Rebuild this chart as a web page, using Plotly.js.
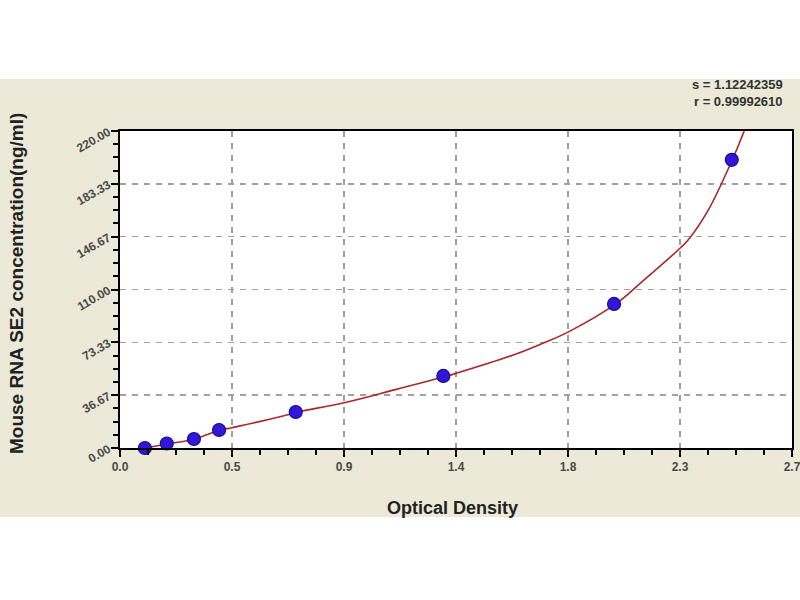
<!DOCTYPE html>
<html>
<head>
<meta charset="utf-8">
<script src="https://cdn.plot.ly/plotly-3.0.1.min.js"></script>
<style>html,body{margin:0;padding:0;background:#fff;}</style>
</head>
<body>
<div id="chart" style="width:800px;height:600px;"></div>
<script>
// Standard points (optical density vs concentration)
var odValues = [0.100, 0.188, 0.297, 0.398, 0.706, 1.299, 1.985, 2.458];
var concValues = [0, 3.125, 6.25, 12.5, 25, 50, 100, 200];

// Fitted curve
var fitOD = [0.10, 0.19, 0.30, 0.40, 0.45, 0.56, 0.67, 0.71, 0.90, 1.11, 1.30, 1.35, 1.58, 1.69, 1.80, 1.99, 2.09, 2.25, 2.28, 2.36, 2.46, 2.51];
var fitConc = [0, 2.8, 6.3, 12.3, 14.1, 18.3, 22.9, 24.8, 31.4, 40.7, 49.3, 51.8, 64.5, 72.0, 80.4, 99.8, 114.3, 138.6, 143.8, 164.0, 200, 221];

var xTickVals = [0, 0.45, 0.9, 1.35, 1.8, 2.25, 2.7];
var xTickText = ["0.0", "0.5", "0.9", "1.4", "1.8", "2.3", "2.7"];
var yTickVals = [0, 36.667, 73.333, 110, 146.667, 183.333, 220];
var yTickText = ["0.00", "36.67", "73.33", "110.00", "146.67", "183.33", "220.00"];

var statLines = ["s = 1.12242359", "r = 0.99992610"];
var xTitle = "Optical Density";
var yTitle = "Mouse RNA SE2 concentration(ng/ml)";

var fam = "Liberation Sans, Arial, sans-serif";
var tickFont = {family: fam, size: 12, color: "#4a4a4a", weight: "bold"};

var traces = [
  {
    x: fitOD, y: fitConc, mode: "lines", type: "scatter",
    line: {color: "#a8282c", width: 1.6, shape: "spline", smoothing: 1.1},
    hoverinfo: "skip"
  },
  {
    x: odValues, y: concValues, mode: "markers", type: "scatter",
    marker: {size: 13, color: "#3216dc", line: {color: "#1c0c8a", width: 1.2}},
    cliponaxis: false
  }
];

var layout = {
  width: 800, height: 600,
  margin: {l: 120, r: 8, t: 131, b: 152},
  paper_bgcolor: "#ffffff",
  plot_bgcolor: "#ffffff",
  showlegend: false,
  xaxis: {
    range: [0, 2.7], tickvals: xTickVals, ticktext: xTickText, ticklabeloverflow: "allow",
    ticks: "outside", ticklen: 7, tickwidth: 2, tickcolor: "#000",
    showline: true, linewidth: 2, linecolor: "#000", mirror: true,
    showgrid: true, gridcolor: "#a0a0a0", gridwidth: 1.5, griddash: "6px,6px",
    zeroline: false, tickfont: tickFont,
    minor: {tick0: 0, dtick: 0.1125, ticks: "outside", ticklen: 5, tickwidth: 2, tickcolor: "#000", showgrid: false}
  },
  yaxis: {
    range: [0, 220], tickvals: yTickVals, ticktext: yTickText, tickangle: -30, ticklabeloverflow: "allow",
    ticks: "outside", ticklen: 7, tickwidth: 2, tickcolor: "#000",
    showline: true, linewidth: 2, linecolor: "#000", mirror: true,
    showgrid: true, gridcolor: "#a0a0a0", gridwidth: 1.5, griddash: "6px,6px",
    zeroline: false, tickfont: tickFont,
    minor: {tick0: 0, dtick: 9.16667, ticks: "outside", ticklen: 5, tickwidth: 2, tickcolor: "#000", showgrid: false}
  },
  shapes: [
    {type: "rect", xref: "paper", yref: "paper", x0: -0.18, x1: 1.02, y0: -0.2177, y1: 1.164,
     fillcolor: "#ece9d8", line: {width: 0}, layer: "below"},
    {type: "rect", xref: "paper", yref: "paper", x0: 0, x1: 1, y0: 0, y1: 1,
     fillcolor: "#ffffff", line: {width: 0}, layer: "below"}
  ],
  annotations: [
    {text: statLines[0], xref: "paper", yref: "paper", x: 0.9896, y: 1.148, xanchor: "right", yanchor: "middle",
     showarrow: false, font: {family: fam, size: 13, color: "#333", weight: "bold"}},
    {text: statLines[1], xref: "paper", yref: "paper", x: 0.9896, y: 1.093, xanchor: "right", yanchor: "middle",
     showarrow: false, font: {family: fam, size: 13, color: "#333", weight: "bold"}},
    {text: xTitle, xref: "paper", yref: "paper", x: 0.4955, y: -0.189, xanchor: "center", yanchor: "middle",
     showarrow: false, font: {family: fam, size: 18, color: "#222", weight: "bold"}},
    {text: yTitle, xref: "paper", yref: "paper", x: -0.155, y: 0.52, xanchor: "center", yanchor: "middle",
     textangle: -90, showarrow: false, font: {family: fam, size: 19, color: "#222", weight: "bold"}}
  ]
};

Plotly.newPlot("chart", traces, layout, {displayModeBar: false, staticPlot: true});
</script>
</body>
</html>
